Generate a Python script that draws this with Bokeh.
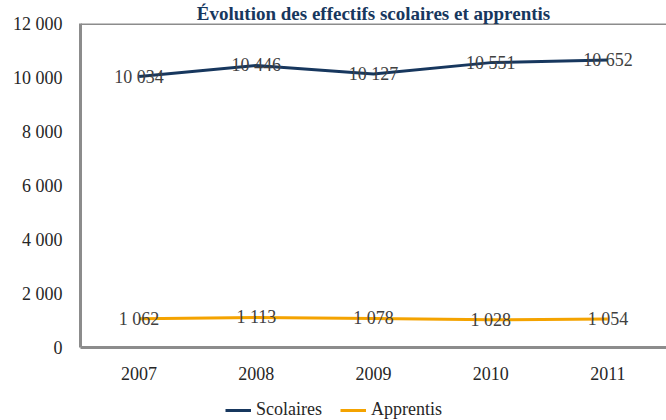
from bokeh.plotting import figure
from bokeh.layouts import column
from bokeh.models import ColumnDataSource, Legend, LegendItem, Title, Span, FixedTicker, LabelSet
from bokeh.core.properties import value
from bokeh.embed import file_html
from bokeh.resources import INLINE

years = [2007, 2008, 2009, 2010, 2011]
scolaires = [10034, 10446, 10127, 10551, 10652]
apprentis = [1062, 1113, 1078, 1028, 1054]
y_ticks = [0, 2000, 4000, 6000, 8000, 10000, 12000]
y_tick_labels = ["0", "2 000", "4 000", "6 000", "8 000", "10 000", "12 000"]
title_text = "Évolution des effectifs scolaires et apprentis"
series_names = ["Scolaires", "Apprentis"]

FONT = "Liberation Serif"
NAVY = "#17375E"
ORANGE = "#F4A300"
GRAY = "#8C8C8C"

def fmt(v):
    return f"{v:,}".replace(",", " ")

src_s = ColumnDataSource(dict(x=years, y=scolaires, t=[fmt(v) for v in scolaires]))
src_a = ColumnDataSource(dict(x=years, y=apprentis, t=[fmt(v) for v in apprentis]))

p = figure(width=666, height=396, x_range=(2006.5, 2011.5), y_range=(0, 12000),
           output_backend="svg", toolbar_location=None,
           min_border_left=80, min_border_right=0, min_border_top=19, min_border_bottom=49)
p.outline_line_color = None
p.background_fill_color = "white"
p.border_fill_color = "white"
p.xgrid.visible = False
p.ygrid.visible = False

p.title = Title(text=title_text, align="center", text_font=FONT, text_font_size="19px",
                text_font_style="bold", text_color=NAVY, standoff=0, offset=0)

for ax in (p.xaxis, p.yaxis):
    ax.axis_line_color = GRAY
    ax.axis_line_width = 3
    ax.major_tick_line_color = None
    ax.minor_tick_line_color = None
    ax.major_label_text_font = FONT
    ax.major_label_text_font_size = "18px"
    ax.major_label_text_color = "#262626"

p.xaxis.ticker = FixedTicker(ticks=years)
p.xaxis.major_label_standoff = 13
p.yaxis.ticker = FixedTicker(ticks=y_ticks)
p.yaxis.major_label_overrides = {t: l for t, l in zip(y_ticks, y_tick_labels)}
p.yaxis.major_label_standoff = 12

p.add_layout(Span(location=12000, dimension="width", line_color=GRAY, line_width=3))

p.line("x", "y", source=src_s, line_color=NAVY, line_width=3)
p.line("x", "y", source=src_a, line_color=ORANGE, line_width=3)

for src in (src_s, src_a):
    p.add_layout(LabelSet(x="x", y="y", text="t", source=src, text_align="center",
                          text_baseline="middle", text_font=value(FONT),
                          text_font_size="18px", text_color="#404040"))

# legend strip below the chart (series drawn outside this strip's view, only the legend shows)
q = figure(width=666, height=24, x_range=(0, 1), y_range=(0, 1),
           output_backend="svg", toolbar_location=None,
           x_axis_type=None, y_axis_type=None,
           min_border_left=0, min_border_right=0, min_border_top=0, min_border_bottom=0)
q.outline_line_color = None
q.xgrid.visible = False
q.ygrid.visible = False
l1 = q.line("x", "y", source=src_s, line_color=NAVY, line_width=3)
l2 = q.line("x", "y", source=src_a, line_color=ORANGE, line_width=3)

legend = Legend(items=[LegendItem(label=series_names[0], renderers=[l1]),
                       LegendItem(label=series_names[1], renderers=[l2])],
                orientation="horizontal", location=(145, 0),
                label_text_font=FONT, label_text_font_size="18px", label_text_color="#262626",
                glyph_width=26, glyph_height=14, label_standoff=5, spacing=18,
                border_line_color=None, background_fill_alpha=0, padding=2, margin=0)
q.add_layout(legend)

layout = column(p, q, spacing=0)
open("out.html", "w").write(file_html(layout, INLINE))
